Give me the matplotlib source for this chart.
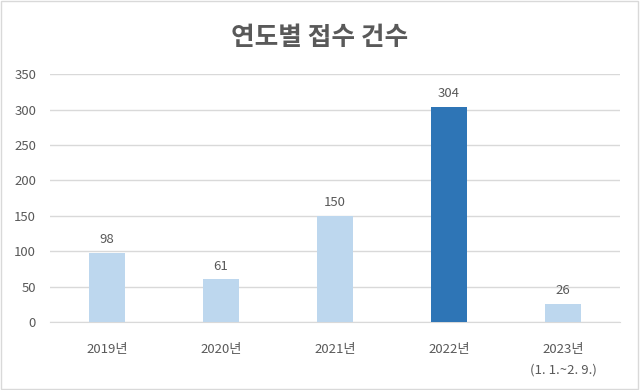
import matplotlib
matplotlib.use('Agg')
import matplotlib.pyplot as plt
from matplotlib.patches import Rectangle

plt.rcParams['font.family'] = ['Noto Sans CJK KR', 'DejaVu Sans']

# 데이터
years = ['2019년', '2020년', '2021년', '2022년', '2023년\n(1. 1.~2. 9.)']
counts = [98, 61, 150, 304, 26]
bar_colors = ['#BDD7EE', '#BDD7EE', '#BDD7EE', '#2E75B6', '#BDD7EE']

text_color = '#595959'

fig = plt.figure(figsize=(6.4, 3.9), dpi=100)
ax = fig.add_axes([0.078, 0.174, 0.891, 0.636])

x = range(len(years))
ax.bar(x, counts, width=0.32, color=bar_colors, zorder=3)

for i, v in enumerate(counts):
    ax.text(i, v + 9, str(v), ha='center', va='bottom', fontsize=9.5, color=text_color)

ax.set_xlim(-0.5, len(years) - 0.5)
ax.set_ylim(0, 350)
ax.set_yticks(range(0, 351, 50))
ax.set_xticks(list(x))
ax.set_xticklabels(years, fontsize=9.5, color=text_color, linespacing=1.75)
ax.tick_params(axis='y', labelsize=9.5, labelcolor=text_color, length=0, pad=10)
ax.tick_params(axis='x', length=0, pad=15)

ax.grid(axis='y', color='#D9D9D9', linewidth=1, zorder=0)
for s in ['top', 'right', 'left']:
    ax.spines[s].set_visible(False)
ax.spines['bottom'].set_color('#D9D9D9')

fig.text(0.5, 0.905, '연도별 접수 건수', ha='center', va='center',
         fontsize=18.5, fontweight='bold', color=text_color)

# 차트 테두리
fig.patches.append(Rectangle((0.002, 0.003), 0.995, 0.994, transform=fig.transFigure,
                             fill=False, edgecolor='#D9D9D9', linewidth=1))

fig.savefig('out.png', dpi=100)
